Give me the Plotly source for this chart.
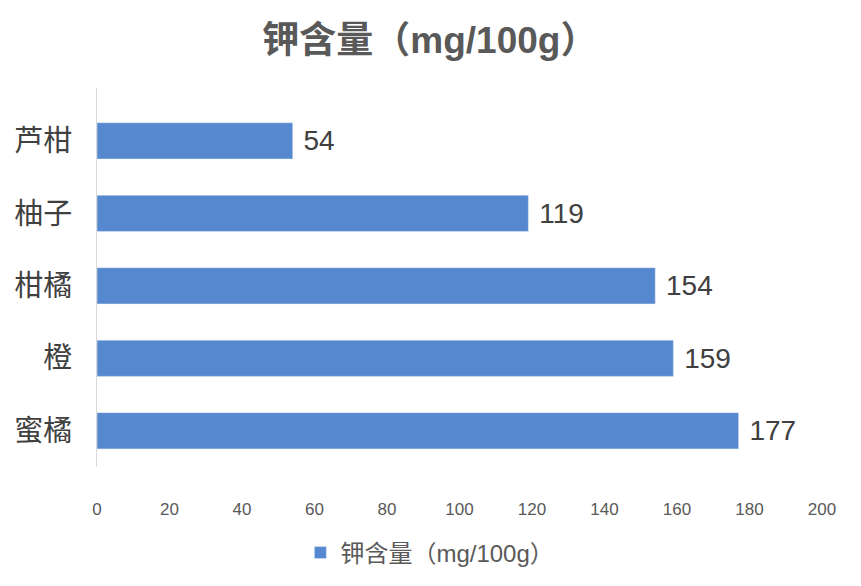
import plotly.graph_objects as go

# 钾含量数据
categories = ["芦柑", "柚子", "柑橘", "橙", "蜜橘"]
potassium = [54, 119, 154, 159, 177]
x_ticks = [0, 20, 40, 60, 80, 100, 120, 140, 160, 180, 200]

series_name = "钾含量（mg/100g）"
bar_color = "#5588CE"
font_family = "Liberation Sans, Noto Sans CJK SC, sans-serif"

fig = go.Figure()

fig.add_trace(go.Bar(
    y=categories,
    x=potassium,
    orientation="h",
    name=series_name,
    marker=dict(color=bar_color),
    texttemplate="\u00a0%{x}",
    textposition="outside",
    textfont=dict(size=28, color="#404040"),
    cliponaxis=False,
    showlegend=True,
))

fig.update_layout(
    width=861,
    height=586,
    paper_bgcolor="white",
    plot_bgcolor="white",
    font=dict(family=font_family, color="#404040"),
    margin=dict(l=89, r=47, t=80, b=127),
    bargap=0.5,
    title=dict(
        text="<b>" + series_name + "</b>",
        x=0.49,
        xanchor="center",
        y=0.945,
        yanchor="middle",
        font=dict(size=37, color="#595959"),
    ),
    xaxis=dict(
        range=[0, 200],
        tickvals=x_ticks,
        showgrid=False,
        zeroline=False,
        showline=False,
        ticks="",
        tickfont=dict(size=17, color="#595959"),
        ticklabelstandoff=30,
        automargin=False,
    ),
    yaxis=dict(
        categoryorder="array",
        categoryarray=categories,
        range=[4.5, -0.73],
        showgrid=False,
        zeroline=False,
        showline=True,
        linecolor="#D9D9D9",
        linewidth=1,
        ticks="",
        ticklabelstandoff=18,
        tickfont=dict(size=29, color="#404040"),
        automargin=False,
    ),
    legend=dict(
        orientation="h",
        xref="container",
        yref="container",
        x=0.49,
        xanchor="center",
        y=0.07,
        yanchor="middle",
        font=dict(size=24, color="#595959"),
        itemwidth=30,
    ),
)

fig.write_html("out.html")
